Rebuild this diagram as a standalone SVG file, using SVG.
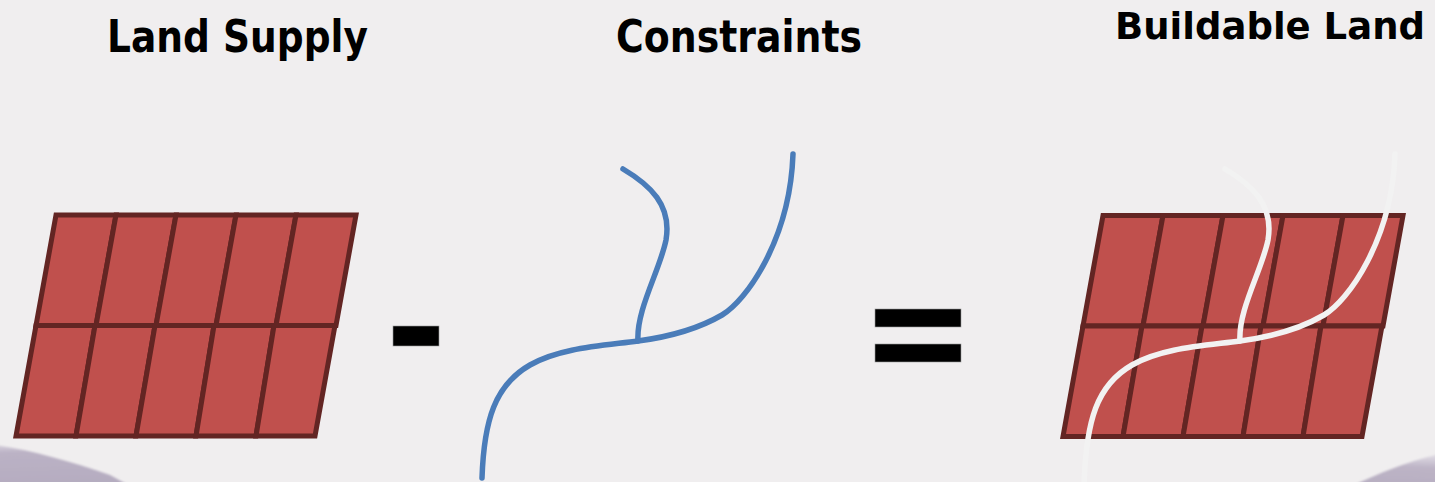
<svg xmlns="http://www.w3.org/2000/svg" width="1435" height="482" viewBox="0 0 1435 482">
  <style>
    .title { font-family: "DejaVu Sans", "Liberation Sans", sans-serif; font-weight: bold; fill: #000; }
    .cell { fill: #C0504D; stroke: #632523; stroke-width: 5; stroke-linejoin: miter; }
    .blue { fill: none; stroke: #4A7CB9; stroke-width: 5.5; stroke-linecap: round; }
    .white { fill: none; stroke: #F2F2F2; stroke-width: 5.5; stroke-linecap: round; }
    .op { fill: #000; stroke: #9a9a9a; stroke-width: 0.6; }
  </style>
  <defs>
    <linearGradient id="lavL" x1="0" y1="0" x2="0.1" y2="1">
      <stop offset="0" stop-color="#D6D0DC"/>
      <stop offset="0.2" stop-color="#BBB2C5"/>
      <stop offset="1" stop-color="#B5ACC0"/>
    </linearGradient>
    <linearGradient id="lavR" x1="0.1" y1="0" x2="0" y2="1">
      <stop offset="0" stop-color="#DCD7E1"/>
      <stop offset="0.35" stop-color="#BDB4C6"/>
      <stop offset="1" stop-color="#B7AEC1"/>
    </linearGradient>
    <filter id="soft" x="-10%" y="-10%" width="120%" height="120%">
      <feGaussianBlur stdDeviation="1"/>
    </filter>
    <g id="grid">
      <polygon class="cell" points="56,215 116,215 96,325.5 36,325.5"/>
      <polygon class="cell" points="116,215 176,215 156,325.5 96,325.5"/>
      <polygon class="cell" points="176,215 236,215 216,325.5 156,325.5"/>
      <polygon class="cell" points="236,215 296,215 276,325.5 216,325.5"/>
      <polygon class="cell" points="296,215 356,215 336,325.5 276,325.5"/>
      <polygon class="cell" points="36,325.5 95,325.5 76,436 16,436"/>
      <polygon class="cell" points="95,325.5 155,325.5 136,436 76,436"/>
      <polygon class="cell" points="155,325.5 214,325.5 196,436 136,436"/>
      <polygon class="cell" points="214,325.5 274,325.5 256,436 196,436"/>
      <polygon class="cell" points="274,325.5 335,325.5 315,436 256,436"/>
    </g>
  </defs>

  <rect x="0" y="0" width="1435" height="482" fill="#F0EEEF"/>

  <g id="background-corners" filter="url(#soft)">
    <path d="M -5 445 C 30 450, 70 461, 110 475 L 130 486 L -5 486 Z" fill="url(#lavL)"/>
    <path d="M 1352 486 C 1375 475, 1405 462, 1440 454 L 1440 486 Z" fill="url(#lavR)"/>
  </g>

  <g id="land-supply">
    <text class="title" x="107" y="52" font-size="44" textLength="261" lengthAdjust="spacingAndGlyphs">Land Supply</text>
    <use href="#grid"/>
  </g>

  <g id="minus">
    <rect class="op" x="393" y="326" width="46" height="20"/>
  </g>

  <g id="constraints">
    <text class="title" x="616" y="52" font-size="44" textLength="246" lengthAdjust="spacingAndGlyphs">Constraints</text>
    <path class="blue" d="M 482 478 C 484 420, 495 385, 530 365 C 560 348, 600 346, 638 341 C 668 337, 698 329, 722 315 C 746 301, 790 240, 793 154"/>
    <path class="blue" d="M 638 341 C 636 310, 660 270, 666 240 C 672 205, 650 185, 623 169"/>
  </g>

  <g id="equals">
    <rect class="op" x="875" y="309" width="86" height="18"/>
    <rect class="op" x="875" y="344" width="86" height="18"/>
  </g>

  <g id="buildable-land">
    <text class="title" x="1115" y="39" font-size="38" textLength="310" lengthAdjust="spacingAndGlyphs">Buildable Land</text>
    <use href="#grid" transform="translate(1047,0.5)"/>
    <g transform="translate(602,0)">
      <path class="white" d="M 482 486 C 484 420, 495 385, 530 365 C 560 348, 600 346, 638 341 C 668 337, 698 329, 722 315 C 746 301, 790 240, 793 154"/>
      <path class="white" d="M 638 341 C 636 310, 660 270, 666 240 C 672 205, 650 185, 623 169"/>
    </g>
  </g>

  <g id="connectors"></g>
</svg>
